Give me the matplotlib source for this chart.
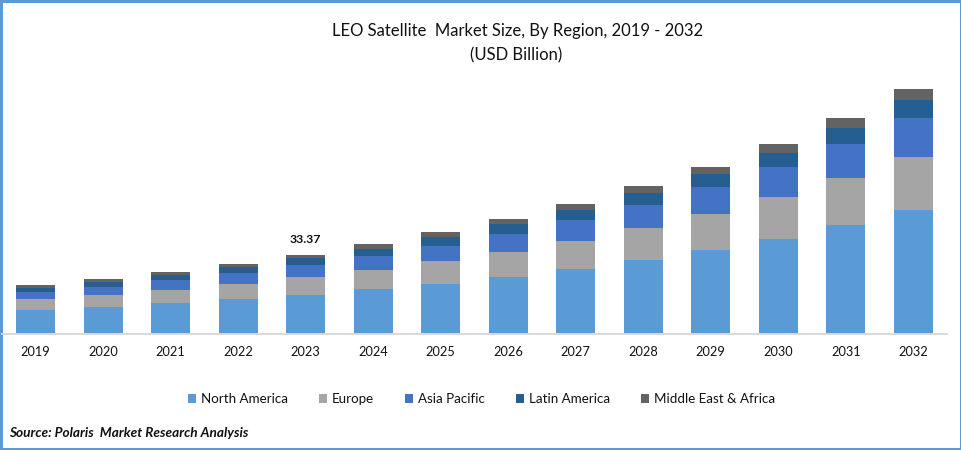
#!/usr/bin/env python3
import matplotlib
matplotlib.use('Agg')
import matplotlib.pyplot as plt
import numpy as np

years = ['2019', '2020', '2021', '2022', '2023', '2024', '2025', '2026', '2027', '2028', '2029', '2030', '2031', '2032']

north_america = [10.24, 11.50, 13.18, 14.86, 16.54, 18.93, 21.03, 23.98, 27.34, 31.13, 35.33, 39.96, 45.85, 52.16]
europe = [4.63, 5.05, 5.47, 6.31, 7.57, 7.99, 9.67, 10.52, 11.78, 13.46, 15.14, 17.67, 19.77, 22.29]
asia_pacific = [2.94, 3.37, 4.21, 4.63, 5.05, 5.89, 6.31, 7.57, 8.83, 9.67, 11.36, 12.62, 14.30, 16.40]
latin_america = [1.68, 2.10, 2.10, 2.52, 2.94, 2.94, 3.79, 4.21, 4.21, 5.05, 5.47, 5.89, 6.73, 7.57]
middle_east = [1.26, 1.26, 1.26, 1.26, 1.26, 2.10, 2.10, 2.10, 2.52, 2.94, 2.94, 3.79, 4.21, 4.63]

series = [
    ('North America', north_america, '#5B9BD5'),
    ('Europe', europe, '#A5A5A5'),
    ('Asia Pacific', asia_pacific, '#4472C4'),
    ('Latin America', latin_america, '#255E91'),
    ('Middle East & Africa', middle_east, '#636363'),
]

W, H = 962, 450
plt.rcParams['font.family'] = ['Lato', 'DejaVu Sans']

fig = plt.figure(figsize=(W / 100, H / 100), dpi=100, facecolor='white')
fig.patch.set_edgecolor('#5B9BD5')
fig.patch.set_linewidth(3.4)

# axes box in pixels: left 2, right 947, baseline 334, top 75
ax = fig.add_axes([2 / W, (H - 334) / H, 945 / W, 259 / H])
ax.patch.set_visible(False)

x = np.arange(len(years))
bottom = np.zeros(len(years))
for name, values, color in series:
    ax.bar(x, values, 0.585, bottom=bottom, color=color, label=name)
    bottom += np.array(values)

ax.set_xlim(-0.5, len(years) - 0.5)
ax.set_ylim(0, 108.9)
ax.set_yticks([])
ax.set_xticks(x, years)
ax.tick_params(axis='x', length=0, pad=9, labelsize=9.2, labelcolor='#111111')
for side in ['top', 'left', 'right']:
    ax.spines[side].set_visible(False)
ax.spines['bottom'].set_color('#D9D9D9')
ax.spines['bottom'].set_linewidth(1.4)

ax.annotate('33.37', (4, bottom[4]), xytext=(0, 7), textcoords='offset points',
            ha='center', va='bottom', fontsize=8.8, fontweight='bold', color='#111111')

fig.text(517.5 / W, 1 - 31 / H, 'LEO Satellite  Market Size, By Region, 2019 - 2032',
         ha='center', va='center', fontsize=12, color='#111111')
fig.text(516 / W, 1 - 55 / H, '(USD Billion)', ha='center', va='center', fontsize=12, color='#111111')

fig.legend(loc='center', bbox_to_anchor=(481.5 / W, 1 - 399 / H), ncol=5, frameon=False,
           fontsize=9.6, handlelength=0.6, handleheight=0.6, handletextpad=0.4,
           columnspacing=2.29, labelcolor='#111111')

fig.text(9 / W, 1 - 433 / H, 'Source: Polaris  Market Research Analysis', ha='left', va='center',
         fontsize=9.8, fontweight='bold', fontstyle='italic', color='#111111')

fig.savefig('out.png', dpi=100)
